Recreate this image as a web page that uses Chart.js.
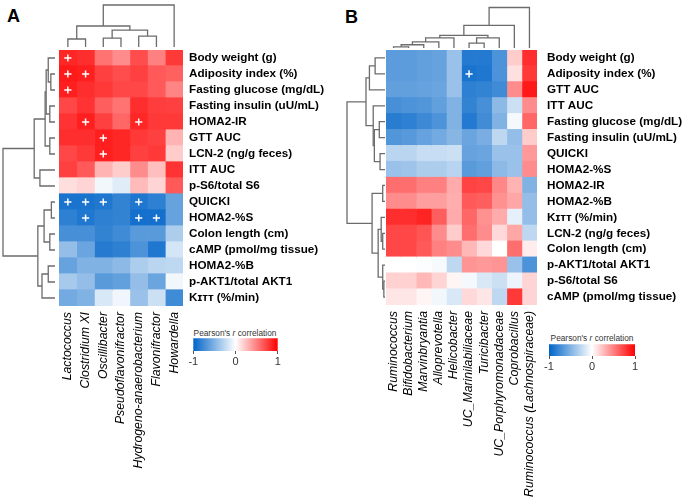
<!DOCTYPE html>
<html><head><meta charset="utf-8">
<script src="https://cdn.jsdelivr.net/npm/chart.js@4.4.1/dist/chart.umd.min.js"></script>
<style>
html,body{margin:0;padding:0;background:#fff;}
body{width:685px;height:504px;position:relative;overflow:hidden;font-family:"Liberation Sans",Arial,sans-serif;}
canvas{position:absolute;}
.panel{position:absolute;font-weight:bold;font-size:18px;line-height:18px;color:#000;}
.ltitle{position:absolute;width:120px;text-align:center;font-size:8.3px;line-height:10px;color:#333;white-space:nowrap;}
</style></head><body>
<div class="panel" style="left:7px;top:7px">A</div>
<div class="panel" style="left:345px;top:8px">B</div>
<div class="ltitle" style="left:175px;top:328px">Pearson's <i>r</i> correlation</div>
<div class="ltitle" style="left:532px;top:333px">Pearson's <i>r</i> correlation</div>
<script>
// ---------------- DATA ----------------
const taxaA = ['Lactococcus','Clostridium XI','Oscillibacter','Pseudoflavonifractor','Hydrogeno-anaerobacterium','Flavonifractor','Howardella'];
const paramsA = ['Body weight (g)','Adiposity index (%)','Fasting glucose (mg/dL)','Fasting insulin (uU/mL)','HOMA2-IR','GTT AUC','LCN-2 (ng/g feces)','ITT AUC','p-S6/total S6','QUICKI','HOMA2-%S','Colon length (cm)','cAMP (pmol/mg tissue)','HOMA2-%B','p-AKT1/total AKT1','K\u026A\u1D1B\u1D1B (%/min)'];
const corrA = [
  [0.85,0.82,0.55,0.45,0.70,0.50,0.78],
  [0.90,0.88,0.75,0.70,0.75,0.65,0.62],
  [0.88,0.82,0.78,0.72,0.72,0.65,0.48],
  [0.72,0.80,0.63,0.55,0.82,0.76,0.75],
  [0.80,0.88,0.75,0.60,0.85,0.78,0.78],
  [0.82,0.82,0.88,0.85,0.78,0.75,0.30],
  [0.72,0.78,0.88,0.85,0.75,0.78,0.20],
  [0.75,0.65,0.30,0.20,0.45,0.25,0.80],
  [0.13,0.17,-0.05,-0.12,0.27,0.17,0.65],
  [-0.90,-0.90,-0.88,-0.80,-0.88,-0.82,-0.60],
  [-0.82,-0.88,-0.82,-0.80,-0.92,-0.92,-0.60],
  [-0.72,-0.72,-0.80,-0.75,-0.65,-0.65,-0.32],
  [-0.42,-0.58,-0.85,-0.82,-0.70,-0.88,-0.17],
  [-0.60,-0.50,-0.50,-0.45,-0.32,-0.27,-0.25],
  [-0.35,-0.42,-0.65,-0.62,-0.42,-0.58,-0.05],
  [-0.55,-0.50,-0.15,-0.06,-0.40,-0.20,-0.75]
];
const sigA = [[0,0],[1,0],[1,1],[2,0],[4,1],[4,4],[5,2],[6,2],[9,0],[9,1],[9,2],[9,4],[10,1],[10,4],[10,5]];
// merges: [childA, childB, height]; leaves 0..n-1, new nodes n, n+1, ...
const rowTreeA = [[1,2,0.08],[0,16,0.13],[3,4,0.10],[5,6,0.10],[17,18,0.17],[20,19,0.19],[7,8,0.29],[21,22,0.40],
                  [9,10,0.07],[11,12,0.10],[24,25,0.21],[13,14,0.13],[27,15,0.25],[26,28,0.33],[23,29,1.0]];
const colTreeA = [[0,1,0.19],[2,3,0.21],[4,5,0.26],[8,9,0.40],[7,10,0.50],[11,6,1.0]];

const taxaB = ['Ruminococcus','Bifidobacterium','Marvinbryantia','Alloprevotella','Helicobacter','UC_Marinilabiliaceae','Turicibacter','UC_Porphyromonadaceae','Coprobacillus','Ruminococcus (Lachnospiraceae)'];
const paramsB = ['Body weight (g)','Adiposity index (%)','GTT AUC','ITT AUC','Fasting glucose (mg/dL)','Fasting insulin (uU/mL)','QUICKI','HOMA2-%S','HOMA2-IR','HOMA2-%B','K\u026A\u1D1B\u1D1B (%/min)','LCN-2 (ng/g feces)','Colon length (cm)','p-AKT1/total AKT1','p-S6/total S6','cAMP (pmol/mg tissue)'];
const corrB = [
  [-0.64,-0.64,-0.62,-0.60,-0.40,-0.86,-0.86,-0.70,0.20,0.82],
  [-0.64,-0.64,-0.62,-0.60,-0.40,-0.90,-0.88,-0.70,0.12,0.78],
  [-0.62,-0.62,-0.60,-0.58,-0.40,-0.82,-0.80,-0.75,0.45,0.90],
  [-0.72,-0.70,-0.68,-0.62,-0.50,-0.80,-0.72,-0.45,-0.20,0.45],
  [-0.84,-0.82,-0.76,-0.70,-0.50,-0.86,-0.74,-0.50,-0.04,0.60],
  [-0.68,-0.66,-0.60,-0.55,-0.47,-0.58,-0.52,-0.25,-0.42,0.20],
  [-0.27,-0.27,-0.22,-0.22,-0.20,-0.60,-0.58,-0.40,-0.40,0.40],
  [-0.40,-0.38,-0.32,-0.32,-0.28,-0.65,-0.62,-0.45,-0.40,0.45],
  [0.57,0.57,0.50,0.50,0.33,0.74,0.72,0.47,0.30,-0.50],
  [0.45,0.45,0.38,0.38,0.32,0.65,0.63,0.43,0.35,-0.42],
  [0.82,0.82,0.86,0.63,0.33,0.60,0.43,0.33,-0.10,-0.42],
  [0.72,0.72,0.67,0.45,0.20,0.57,0.45,0.15,0.35,-0.25],
  [0.72,0.72,0.65,0.50,0.45,0.28,0.15,0.00,0.57,0.07],
  [0.00,0.00,-0.01,-0.03,-0.25,0.42,0.40,0.42,-0.40,-0.70],
  [0.18,0.18,0.28,0.17,0.04,-0.04,-0.15,-0.20,-0.07,0.17],
  [0.10,0.10,0.04,-0.05,-0.15,0.15,0.10,-0.25,0.78,0.17]
];
const sigB = [[1,5]];
const rowTreeB = [[0,1,0.26],[16,2,0.41],[4,5,0.15],[6,7,0.13],[18,19,0.28],[3,20,0.31],[17,21,0.50],
                  [8,9,0.06],[11,12,0.06],[10,24,0.10],[14,15,0.03],[13,26,0.06],[25,27,0.18],[23,28,0.34],[22,29,1.0]];
const colTreeB = [[0,1,0.03],[10,2,0.08],[11,3,0.15],[12,4,0.25],[5,6,0.12],[14,7,0.25],[13,15,0.31],[16,8,0.56],[17,9,1.0]];

const legendTicks = [-1, 0, 1];

// ---------------- STYLE / HELPERS ----------------
Chart.defaults.font.family = "'Liberation Sans', Arial, sans-serif";
const NEG = [0,100,200], MID = [255,255,255], POS = [255,0,0];
function corrColor(v){
  const t = Math.max(-1, Math.min(1, v));
  const end = t < 0 ? NEG : POS, a = Math.abs(t);
  const c = MID.map((m,i)=>Math.round(m + (end[i]-m)*a));
  return `rgb(${c[0]},${c[1]},${c[2]})`;
}
function makeCanvas(left, top, w, h){
  const c = document.createElement('canvas');
  c.width = w; c.height = h;
  c.style.left = left + 'px'; c.style.top = top + 'px';
  c.style.width = w + 'px'; c.style.height = h + 'px';
  document.body.appendChild(c);
  return c;
}
function treeSegments(n, merges){
  const pos = [], ht = [];
  for (let i=0;i<n;i++){ pos.push(i+0.5); ht.push(0); }
  const segs = [];
  merges.forEach(([a,b,h])=>{
    segs.push([[pos[a],ht[a]],[pos[a],h],[pos[b],h],[pos[b],ht[b]]]);
    pos.push((pos[a]+pos[b])/2); ht.push(h);
  });
  return segs;
}
function dendro(box, n, merges, orient, pad){
  const top = orient === 'top';
  const segs = treeSegments(n, merges);
  new Chart(makeCanvas(box.left, box.top, box.w, box.h), {
    type:'scatter',
    data:{datasets: segs.map(s=>({
      data: s.map(([p,h]) => top ? {x:p, y:h} : {x:h, y:p}),
      showLine:true, borderColor:'#6c6c6c', borderWidth:1.3, pointRadius:0, tension:0, clip:false
    }))},
    options:{responsive:false, animation:false, devicePixelRatio:1, events:[],
      layout:{padding:pad},
      plugins:{legend:{display:false}, tooltip:{enabled:false}},
      scales: top ? {
        x:{type:'linear', display:false, min:0, max:n},
        y:{type:'linear', display:false, min:0, max:1}
      } : {
        x:{type:'linear', display:false, min:0, max:1, reverse:true},
        y:{type:'linear', display:false, min:0, max:n, reverse:true}
      }
    }
  });
}
const PAD = 25;
function rowPixels(ctx){
  const s = ctx.chart.scales.y;
  if (!s || !s.height) return 16;
  return s.height / s.getLabels().length + 0.6;
}
function heatmap(box, taxa, params, corr, sig, labelPad){
  const datasets = taxa.map((t, c) => ({
    type:'bar', xAxisID:'xv', yAxisID:'y', stack:'cells',
    data: params.map(()=>1),
    backgroundColor: params.map((p, r) => corrColor(corr[r][c])),
    borderWidth:0, barPercentage:1, categoryPercentage:1, barThickness: rowPixels
  }));
  datasets.push({
    type:'scatter', xAxisID:'xm', yAxisID:'y', order:-1, stack:'marks',
    data: sig.map(([r,c]) => ({x: c + 0.5, y: params[r]})),
    pointStyle:'cross', pointRadius:3.6, borderColor:'#ffffff', borderWidth:1.5, showLine:false
  });
  new Chart(makeCanvas(box.left - PAD, box.top - PAD, box.w + box.rightW + PAD, box.h + box.bottomH + PAD), {
    type:'bar',
    data:{labels: params, datasets},
    options:{responsive:false, animation:false, devicePixelRatio:1, events:[], indexAxis:'y',
      datasets:{bar:{barPercentage:1, categoryPercentage:1}},
      layout:{padding:{left:PAD, top:PAD, right:0, bottom:0}},
      plugins:{legend:{display:false}, tooltip:{enabled:false}},
      scales:{
        xv:{type:'linear', display:false, stacked:true, min:0, max:taxa.length, position:'bottom',
            offset:false, beginAtZero:false, grid:{offset:false}},
        xm:{type:'linear', display:false, stacked:false, min:0, max:taxa.length, position:'bottom',
            offset:false, beginAtZero:false, grid:{offset:false}},
        x:{type:'category', labels:taxa, position:'bottom', offset:true,
           grid:{display:false, drawTicks:false, offset:true}, border:{display:false},
           ticks:{autoSkip:false, minRotation:90, maxRotation:90, padding:6, color:'#000',
                  font:{size:12.3, style:'italic'}},
           afterFit: s => { s.height = box.bottomH; }},
        y:{type:'category', labels:params, position:'right', stacked:true, offset:true,
           grid:{display:false, drawTicks:false, offset:true}, border:{display:false},
           ticks:{autoSkip:false, padding:labelPad, color:'#000', font:{size:11.7, weight:'bold'}},
           afterFit: s => { s.width = box.rightW; }}
      }
    }
  });
}
function colorLegend(box, pad){
  new Chart(makeCanvas(box.left, box.top, box.w, box.h), {
    type:'bar',
    data:{labels:['r'], datasets:[{
      data:[[legendTicks[0], legendTicks[legendTicks.length-1]]],
      borderWidth:0, barPercentage:1, categoryPercentage:1,
      backgroundColor: (ctx) => {
        const ch = ctx.chart, xs = ch.scales.x;
        if (!ch.chartArea || !xs) return '#fff';
        const x0 = xs.getPixelForValue(-1), x1 = xs.getPixelForValue(1);
        const g = ch.ctx.createLinearGradient(x0, 0, x1, 0);
        [-1,-0.5,0,0.5,1].forEach(v => g.addColorStop((v+1)/2, corrColor(v)));
        return g;
      }
    }]},
    options:{responsive:false, animation:false, devicePixelRatio:1, events:[], indexAxis:'y',
      layout:{padding:pad},
      plugins:{legend:{display:false}, tooltip:{enabled:false}},
      scales:{
        x:{type:'linear', min:-1, max:1, afterBuildTicks: s => { s.ticks = legendTicks.map(v=>({value:v})); },
           grid:{display:true, drawOnChartArea:false, drawTicks:true, tickLength:3, color:'#555'},
           border:{display:false},
           ticks:{padding:1, color:'#333', font:{size:11}, callback: v => String(v)},
           afterFit: s => { s.height = 18; }},
        y:{type:'category', display:false}
      }
    }
  });
}

// ---------------- LAYOUT ----------------
heatmap({left:59, top:50, w:124, h:256, rightW:160, bottomH:190}, taxaA, paramsA, corrA, sigA, 6);
dendro({left:59, top:3, w:124, h:46}, taxaA.length, colTreeA, 'top', {top:2, bottom:2, left:0, right:0});
dendro({left:1, top:50, w:56, h:256}, paramsA.length, rowTreeA, 'left', {left:2, right:2, top:0, bottom:0});
colorLegend({left:183, top:337, w:105, h:32}, {left:10.3, right:10.3, top:1.3, bottom:0});

heatmap({left:386, top:50, w:151, h:255, rightW:148, bottomH:195}, taxaB, paramsB, corrB, sigB, 10);
dendro({left:386, top:5, w:151, h:45}, taxaB.length, colTreeB, 'top', {top:2.5, bottom:2, left:0, right:0});
dendro({left:345, top:50, w:42, h:255}, paramsB.length, rowTreeB, 'left', {left:2, right:2, top:0, bottom:0});
colorLegend({left:539, top:343, w:106, h:31}, {left:10, right:10, top:1.3, bottom:0});
</script>
</body></html>
